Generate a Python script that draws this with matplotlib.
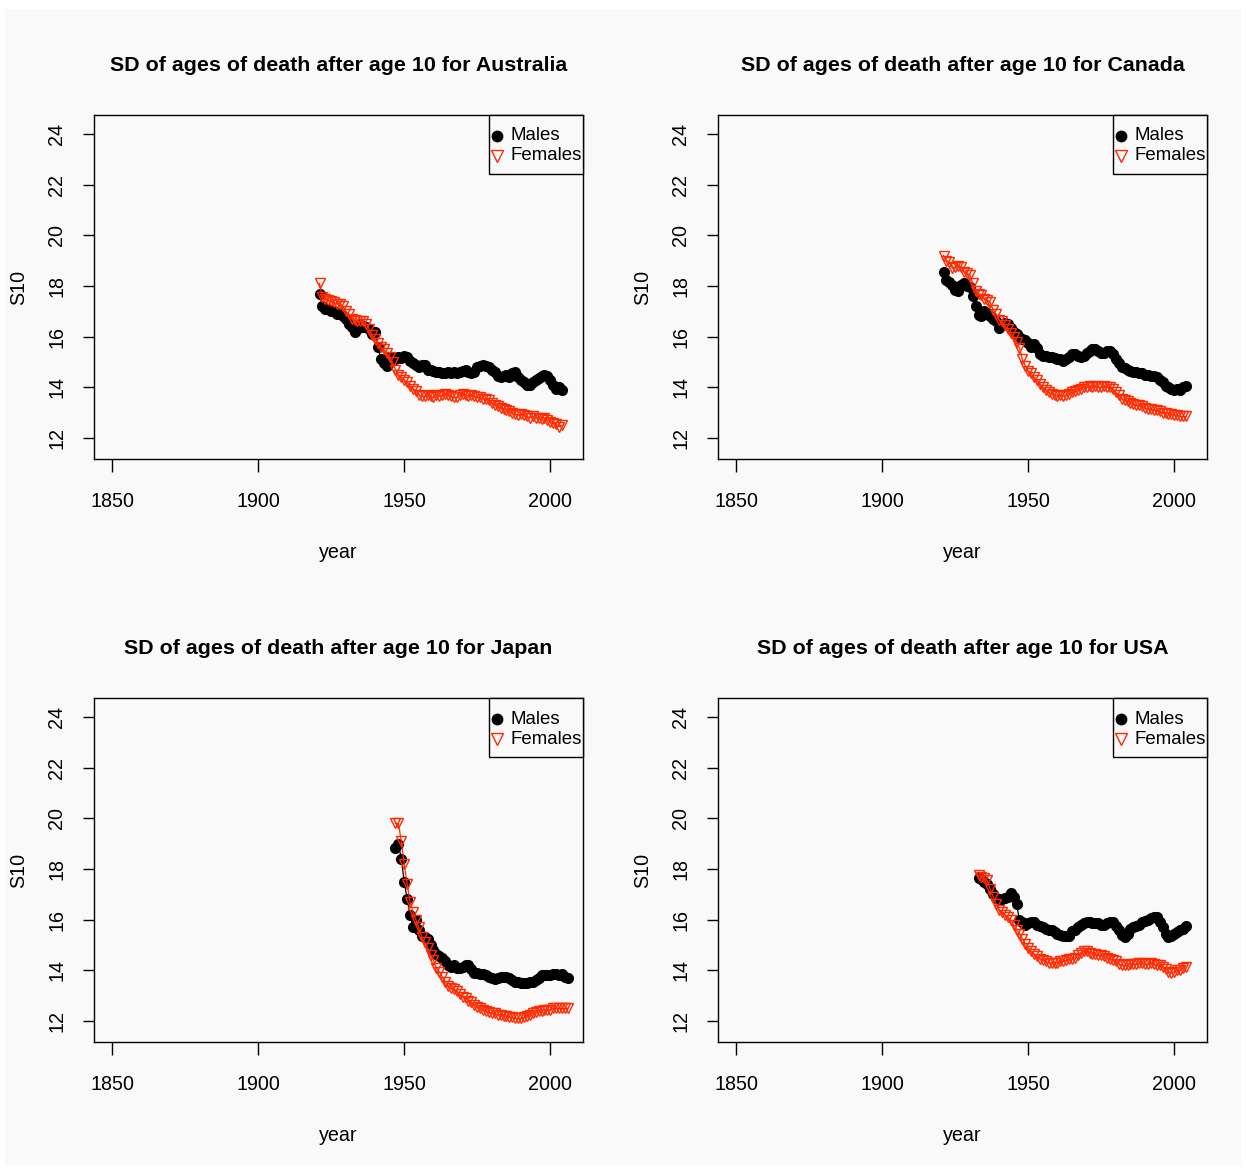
import matplotlib
matplotlib.use("Agg")
import matplotlib.pyplot as plt
from matplotlib.patches import Rectangle

plt.rcParams['font.family'] = ['Liberation Sans', 'DejaVu Sans']

# ---------------- data ----------------
countries = ["Australia", "Canada", "Japan", "USA"]

aus_start = 1921
aus_males = [17.7, 17.2, 17.1, 17.1, 17.0, 17.0, 16.9, 16.9, 16.8, 16.7,
             16.5, 16.4, 16.2, 16.3, 16.5, 16.4, 16.4, 16.3, 16.1, 16.2,
             15.6, 15.1, 14.95, 14.85, 15.2, 15.15, 15.1, 15.2, 15.15, 15.25,
             15.2, 15.05, 14.95, 14.9, 14.8, 14.9, 14.9, 14.7, 14.7, 14.65,
             14.6, 14.6, 14.55, 14.55, 14.6, 14.55, 14.6, 14.55, 14.6, 14.65,
             14.7, 14.6, 14.55, 14.6, 14.8, 14.85, 14.9, 14.85, 14.8, 14.7,
             14.6, 14.45, 14.4, 14.45, 14.5, 14.4, 14.55, 14.6, 14.4, 14.3,
             14.2, 14.1, 14.1, 14.2, 14.3, 14.35, 14.45, 14.5, 14.45, 14.3,
             14.1, 13.95, 14.0, 13.9]
aus_females = [18.1, 17.55, 17.5, 17.45, 17.4, 17.35, 17.3, 17.3, 17.2, 17.0,
               16.9, 16.7, 16.65, 16.6, 16.6, 16.6, 16.5, 16.3, 16.05, 15.9,
               15.75, 15.6, 15.5, 15.35, 15.2, 15.0, 14.7, 14.5, 14.4, 14.3,
               14.2, 14.05, 13.95, 13.85, 13.7, 13.65, 13.65, 13.7, 13.65, 13.6,
               13.7, 13.65, 13.7, 13.75, 13.7, 13.65, 13.6, 13.6, 13.7, 13.75,
               13.7, 13.65, 13.7, 13.65, 13.6, 13.6, 13.55, 13.55, 13.5, 13.4,
               13.3, 13.25, 13.2, 13.15, 13.1, 13.05, 13.0, 12.95, 12.9, 12.95,
               12.9, 12.85, 12.8, 12.85, 12.8, 12.8, 12.75, 12.8, 12.7, 12.65,
               12.6, 12.55, 12.45, 12.5]

can_start = 1921
can_males = [18.55, 18.25, 18.15, 18.05, 17.85, 17.8, 18.05, 18.1, 18.0, 17.95,
             17.6, 17.2, 16.85, 16.8, 17.0, 16.95, 16.8, 16.7, 16.6, 16.35,
             16.45, 16.55, 16.5, 16.35, 16.2, 16.1, 16.0, 15.9, 15.85, 15.75,
             15.6, 15.7, 15.55, 15.3, 15.25, 15.25, 15.2, 15.2, 15.15, 15.1,
             15.1, 15.05, 15.1, 15.2, 15.3, 15.3, 15.25, 15.2, 15.25, 15.35,
             15.45, 15.5, 15.5, 15.45, 15.35, 15.35, 15.45, 15.45, 15.3, 15.1,
             14.95, 14.8, 14.75, 14.7, 14.65, 14.6, 14.6, 14.55, 14.55, 14.5,
             14.5, 14.45, 14.45, 14.4, 14.3, 14.2, 14.05, 14.0, 13.95, 13.9,
             13.95, 13.9, 14.0, 14.05]
can_females = [19.2, 19.0, 18.95, 18.7, 18.75, 18.8, 18.75, 18.55, 18.5, 18.45,
               18.1, 17.8, 17.7, 17.65, 17.5, 17.45, 17.35, 17.05, 16.9, 16.65,
               16.6, 16.45, 16.3, 16.15, 16.0, 15.8, 15.55, 15.1, 14.85, 14.65,
               14.55, 14.4, 14.3, 14.15, 14.0, 13.9, 13.8, 13.75, 13.7, 13.65,
               13.7, 13.65, 13.7, 13.75, 13.8, 13.85, 13.9, 13.95, 14.0, 14.0,
               14.05, 14.0, 14.05, 14.0, 14.0, 14.05, 14.0, 14.0, 13.95, 13.8,
               13.7, 13.55, 13.5, 13.45, 13.4, 13.35, 13.3, 13.3, 13.25, 13.2,
               13.15, 13.15, 13.1, 13.1, 13.05, 13.0, 13.0, 12.95, 12.95, 12.9,
               12.9, 12.85, 12.85, 12.85]

jpn_start = 1947
jpn_males = [18.82, 19.0, 18.4, 17.5, 16.8, 16.2, 15.7, 16.0, 15.6, 15.35,
             15.3, 15.25, 15.0, 14.8, 14.65, 14.55, 14.5, 14.35, 14.2, 14.15,
             14.2, 14.1, 14.1, 14.15, 14.2, 14.2, 14.05, 13.9, 13.9, 13.85,
             13.85, 13.8, 13.75, 13.7, 13.65, 13.7, 13.75, 13.75, 13.75, 13.7,
             13.6, 13.55, 13.55, 13.5, 13.5, 13.5, 13.55, 13.55, 13.6, 13.7,
             13.8, 13.8, 13.8, 13.8, 13.85, 13.85, 13.8, 13.85, 13.75, 13.7]
jpn_females = [19.8, 19.8, 19.1, 18.2, 17.4, 16.7, 16.3, 16.0, 15.7, 15.3,
               15.1, 14.9, 14.6, 14.4, 14.1, 13.95, 13.75, 13.55, 13.4, 13.3,
               13.25, 13.2, 13.05, 12.95, 12.9, 12.8, 12.75, 12.65, 12.55, 12.5,
               12.45, 12.4, 12.35, 12.3, 12.3, 12.25, 12.25, 12.2, 12.2, 12.15,
               12.15, 12.1, 12.1, 12.1, 12.15, 12.2, 12.25, 12.3, 12.35, 12.4,
               12.4, 12.45, 12.45, 12.45, 12.5, 12.5, 12.5, 12.5, 12.5, 12.5]

usa_start = 1933
usa_males = [17.65, 17.6, 17.5, 17.4, 17.2, 17.0, 16.85, 16.8, 16.8, 16.85,
             16.9, 17.05, 16.9, 16.6, 16.0, 15.9, 15.8, 15.85, 15.9, 15.9,
             15.8, 15.75, 15.7, 15.65, 15.6, 15.6, 15.5, 15.45, 15.4, 15.35,
             15.35, 15.35, 15.55, 15.6, 15.7, 15.8, 15.85, 15.9, 15.9, 15.85,
             15.85, 15.85, 15.8, 15.8, 15.85, 15.9, 15.9, 15.75, 15.6, 15.4,
             15.3, 15.45, 15.65, 15.7, 15.75, 15.8, 15.9, 15.95, 16.0, 16.05,
             16.1, 16.1, 15.9, 15.7, 15.45, 15.3, 15.35, 15.45, 15.5, 15.6,
             15.65, 15.75]
usa_females = [17.75, 17.7, 17.65, 17.55, 17.2, 16.9, 16.6, 16.4, 16.3, 16.2,
               16.1, 16.0, 15.8, 15.6, 15.45, 15.25, 15.05, 14.9, 14.75, 14.65,
               14.55, 14.45, 14.4, 14.35, 14.3, 14.3, 14.3, 14.3, 14.35, 14.35,
               14.4, 14.45, 14.45, 14.5, 14.6, 14.7, 14.75, 14.75, 14.7, 14.65,
               14.65, 14.6, 14.6, 14.55, 14.5, 14.45, 14.4, 14.35, 14.25, 14.2,
               14.2, 14.2, 14.25, 14.25, 14.25, 14.3, 14.3, 14.25, 14.25, 14.3,
               14.25, 14.2, 14.2, 14.15, 14.05, 13.95, 13.9, 13.95, 14.0, 14.0,
               14.1, 14.15]

x_ticks = [1850, 1900, 1950, 2000]
y_ticks = [12, 14, 16, 18, 20, 22, 24]
legend_labels = ["Males", "Females"]

panels = [
    ("Australia", aus_start, aus_males, aus_females),
    ("Canada", can_start, can_males, can_females),
    ("Japan", jpn_start, jpn_males, jpn_females),
    ("USA", usa_start, usa_males, usa_females),
]

# ---------------- figure ----------------
W, H = 1246, 1170
BG = '#f9f9f9'
RED = '#ff2a00'
fig = plt.figure(figsize=(W / 100, H / 100), dpi=100, facecolor='white')
fig.patches.append(Rectangle((5 / W, 1 - 1165 / H), (1241 - 5) / W, (1165 - 9) / H,
                             transform=fig.transFigure, facecolor=BG,
                             edgecolor='none', zorder=-10))

boxes = [(94, 115), (718, 115), (94, 698), (718, 698)]
aw, ah = 489, 344


def ax_xy(ax_px, ax_py, x, y):
    """pixel (relative to panel box top-left) -> axes fraction"""
    return (x - ax_px) / aw, 1 - (y - ax_py) / ah


for (name, start, males, females), (px, py) in zip(panels, boxes):
    ax = fig.add_axes([px / W, 1 - (py + ah) / H, aw / W, ah / H])
    ax.set_facecolor(BG)
    ym = list(range(start, start + len(males)))
    yf = list(range(start, start + len(females)))
    ax.plot(ym, males, color='black', lw=0.9, marker='o', ms=7.0,
            mfc='black', mec='black', zorder=3)
    ax.plot(yf, females, color=RED, lw=0.9, marker='v', ms=7.2,
            mfc='none', mec=RED, mew=1.0, zorder=4)

    ax.set_xlim(1843.8, 2011.2)
    ax.set_ylim(11.17, 24.75)
    ax.set_xticks(x_ticks)
    ax.set_yticks(y_ticks)
    ax.set_xticklabels([str(t) for t in x_ticks], fontsize=14.2)
    ax.set_yticklabels([str(t) for t in y_ticks], fontsize=14.2,
                       rotation=90, va='center')
    ax.tick_params(axis='x', direction='out', length=9, width=1.0, pad=15)
    ax.tick_params(axis='y', direction='out', length=8, width=1.0, pad=12)
    for sp in ax.spines.values():
        sp.set_linewidth(1.0)
        sp.set_color('black')

    ax.set_xlabel("year", fontsize=14.2)
    ax.xaxis.set_label_coords(0.5, -(543 - 459) / ah)
    ax.set_ylabel("S10", fontsize=14.2)
    ax.yaxis.set_label_coords((28 - 94) / aw, 0.5)

    ax.text(0.5, (459 - 66) / ah, "SD of ages of death after age 10 for " + name,
            transform=ax.transAxes, ha='center', va='center',
            fontsize=15.4, fontweight='bold')

    # legend box (R style: tight horizontal padding)
    x0, y1 = ax_xy(px, py, px + 395, py)
    x1, y0 = ax_xy(px, py, px + aw, py + 59)
    ax.add_patch(Rectangle((x0, y0), x1 - x0, y1 - y0, transform=ax.transAxes,
                           facecolor=BG, edgecolor='black', lw=1.0,
                           zorder=10, clip_on=False))
    mx, my1 = ax_xy(px, py, px + 403, py + 21)
    _, my2 = ax_xy(px, py, px + 403, py + 41)
    tx, _ = ax_xy(px, py, px + 416, py)
    ax.plot([mx], [my1], transform=ax.transAxes, ls='none', marker='o', ms=7.5,
            mfc='black', mec='black', zorder=11, clip_on=False)
    ax.plot([mx], [my2], transform=ax.transAxes, ls='none', marker='v', ms=8.5,
            mfc='none', mec=RED, mew=1.0, zorder=11, clip_on=False)
    ax.text(tx, my1, legend_labels[0], transform=ax.transAxes, ha='left',
            va='center', fontsize=13.4, zorder=12)
    ax.text(tx, my2, legend_labels[1], transform=ax.transAxes, ha='left',
            va='center', fontsize=13.4, zorder=12)

fig.savefig("out.png", dpi=100, facecolor='white')
